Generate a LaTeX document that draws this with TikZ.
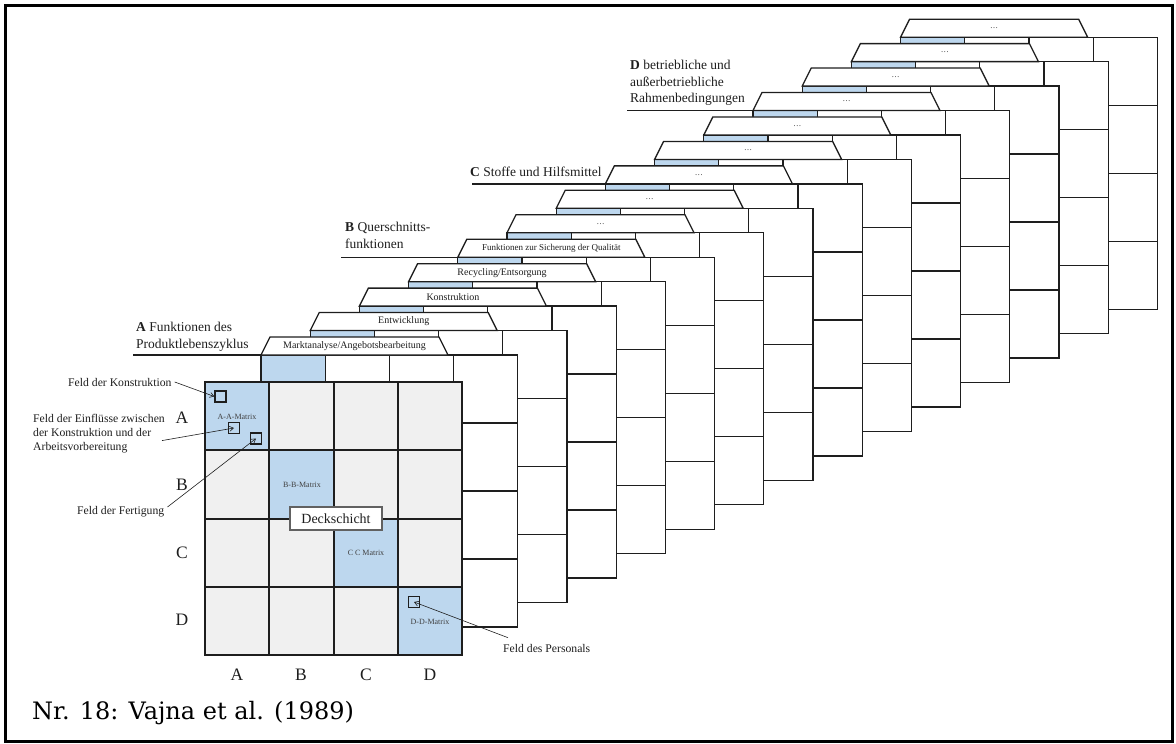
\documentclass[tikz,border=0pt]{standalone}
\usepackage{fontspec}
\setmainfont{Liberation Serif}
\newfontfamily\capfont{DejaVu Serif}
\usetikzlibrary{arrows.meta}
\definecolor{cellblue}{RGB}{189,215,238}
\definecolor{cellgray}{RGB}{240,240,240}
\definecolor{ink}{RGB}{30,30,30}
% captions of the stacked matrices, indexed by layer
\newcommand\tabtext[1]{\ifcase#1\or Marktanalyse/Angebotsbearbeitung\or Entwicklung\or Konstruktion\or Recycling/Entsorgung\or Funktionen zur Sicherung der Qualität\else\dots\fi}

\begin{document}
\begin{tikzpicture}[x=1pt,y=-1pt,
  layerline/.style={draw=ink, line width=1.3pt, line cap=rect},
  frontline/.style={draw=ink, line width=2pt, line cap=rect},
  tablab/.style={inner sep=0pt, text=ink},
  grouplab/.style={inner sep=0pt, align=left, font=\fontsize{13.5}{16.5}\selectfont, text=ink},
  underline/.style={draw=ink, line width=1.3pt},
  pointer/.style={draw=ink, line width=0.6pt, -{Straight Barb[length=4pt,width=5pt]}},
  fieldbox/.style={draw=ink, line width=1.3pt, minimum size=11pt, inner sep=0pt},
  calloutlab/.style={inner sep=0pt, font=\fontsize{11.7}{14}\selectfont, align=left, text=ink},
  axislab/.style={inner sep=0pt, font=\fontsize{17.5}{20}\selectfont, text=ink},
  matlab/.style={inner sep=0pt, font=\fontsize{8}{10}\selectfont, text=ink!85},
]
\useasboundingbox (0,0) rectangle (1176,744);
\draw[line width=3pt] (5,5) rectangle (1172,741);

% stacked layers, drawn from the back to the front
\foreach \k/\fs in {14/8,13/8,12/8,11/8,10/8,9/8,8/8,7/8,6/8,5/9,4/10,3/10,2/10,1/10} {
  \begin{scope}[shift={({261+(\k-1)*49.2},{355-(\k-1)*24.45})}]
    \coordinate (L\k) at (0,0);
    \fill[white] (0,0) rectangle (256.8,272);
    \fill[cellblue] (0,0) rectangle (64.2,68);
    \foreach \i in {0,...,4} {
      \draw[layerline] (\i*64.2,0) -- (\i*64.2,272);
      \draw[layerline] (0,\i*68) -- (256.8,\i*68);
    }
    \draw[layerline, fill=white, line cap=butt] (0,0) -- (9,-18) -- (178,-18) -- (187,0) -- cycle;
    \node[tablab, font=\fontsize{\fs}{12}\selectfont] (tab\k) at (93.5,-9) {\tabtext{\k}};
  \end{scope}
}

% front layer (Deckschicht)
\begin{scope}[shift={(205,382)}]
  \fill[cellgray] (0,0) rectangle (257,273);
  \foreach \i in {0,...,3}
    \fill[cellblue] (\i*64.25,\i*68.25) rectangle ++(64.25,68.25);
  \foreach \i in {0,...,4} {
    \draw[frontline] (\i*64.25,0) -- (\i*64.25,273);
    \draw[frontline] (0,\i*68.25) -- (257,\i*68.25);
  }
\end{scope}

\node[matlab] (mA) at (237,417) {A-A-Matrix};
\node[matlab] (mB) at (302,485) {B-B-Matrix};
\node[matlab] (mC) at (366,553) {C C Matrix};
\node[matlab] (mD) at (430,622) {D-D-Matrix};

\node[draw=ink!70, line width=1.2pt, fill=white, inner sep=0pt, minimum width=92pt,
      minimum height=23pt, font=\fontsize{14}{16}\selectfont, text=ink] (deck) at (336,518.5) {Deckschicht};

% row and column letters
\node[axislab] (rA) at (182,418) {A};
\node[axislab] (rB) at (182,485) {B};
\node[axislab] (rC) at (182,553) {C};
\node[axislab] (rD) at (182,620) {D};
\node[axislab] (cA) at (237,675) {A};
\node[axislab] (cB) at (301,675) {B};
\node[axislab] (cC) at (366,675) {C};
\node[axislab] (cD) at (430,675) {D};

% marked fields
\node[fieldbox] (sq1) at (220.5,396.5) {};
\node[fieldbox] (sq2) at (234,428) {};
\node[fieldbox] (sq3) at (256,438.5) {};
\node[fieldbox] (sq4) at (414,602) {};

\node[calloutlab, anchor=west] (lKon) at (68,382) {Feld der Konstruktion};
\node[calloutlab, anchor=north west] (lEin) at (33,414) {Feld der Einflüsse zwischen\\der Konstruktion und der\\Arbeitsvorbereitung};
\node[calloutlab, anchor=west] (lFer) at (77,512) {Feld der Fertigung};
\node[calloutlab, anchor=west] (lPer) at (503,648) {Feld des Personals};

\draw[pointer] ([xshift=3pt]lKon.east) -- (sq1.west);
\draw[pointer] ([xshift=-3pt,yshift=-7pt]lEin.east) -- (sq2.center);
\draw[pointer] ([xshift=3pt,yshift=5pt]lFer.east) -- (sq3.center);
\draw[pointer] ([xshift=5pt,yshift=6pt]lPer.north west) -- (sq4.center);

% group headings with their rules
\node[grouplab, anchor=north west] (gA) at (136,322) {\textbf{A} Funktionen des\\Produktlebenszyklus};
\draw[underline] (L1) -- ++(-128,0);
\node[grouplab, anchor=north west] (gB) at (345,222) {\textbf{B} Querschnitts-\\funktionen};
\draw[underline] (L5) -- ++(-117,0);
\node[grouplab, anchor=base west] (gC) at (470,176) {\textbf{C} Stoffe und Hilfsmittel};
\draw[underline] (L8) -- ++(-133.4,0);
\node[grouplab, anchor=north west] (gD) at (630,60) {\textbf{D} betriebliche und\\außerbetriebliche\\Rahmenbedingungen};
\draw[underline] (L11) -- ++(-126,0);

\node[anchor=base west, inner sep=0pt, font=\capfont\fontsize{24}{28}\selectfont] (cap) at (32,719) {Nr. 18: Vajna et al. (1989)};
\end{tikzpicture}
\end{document}
